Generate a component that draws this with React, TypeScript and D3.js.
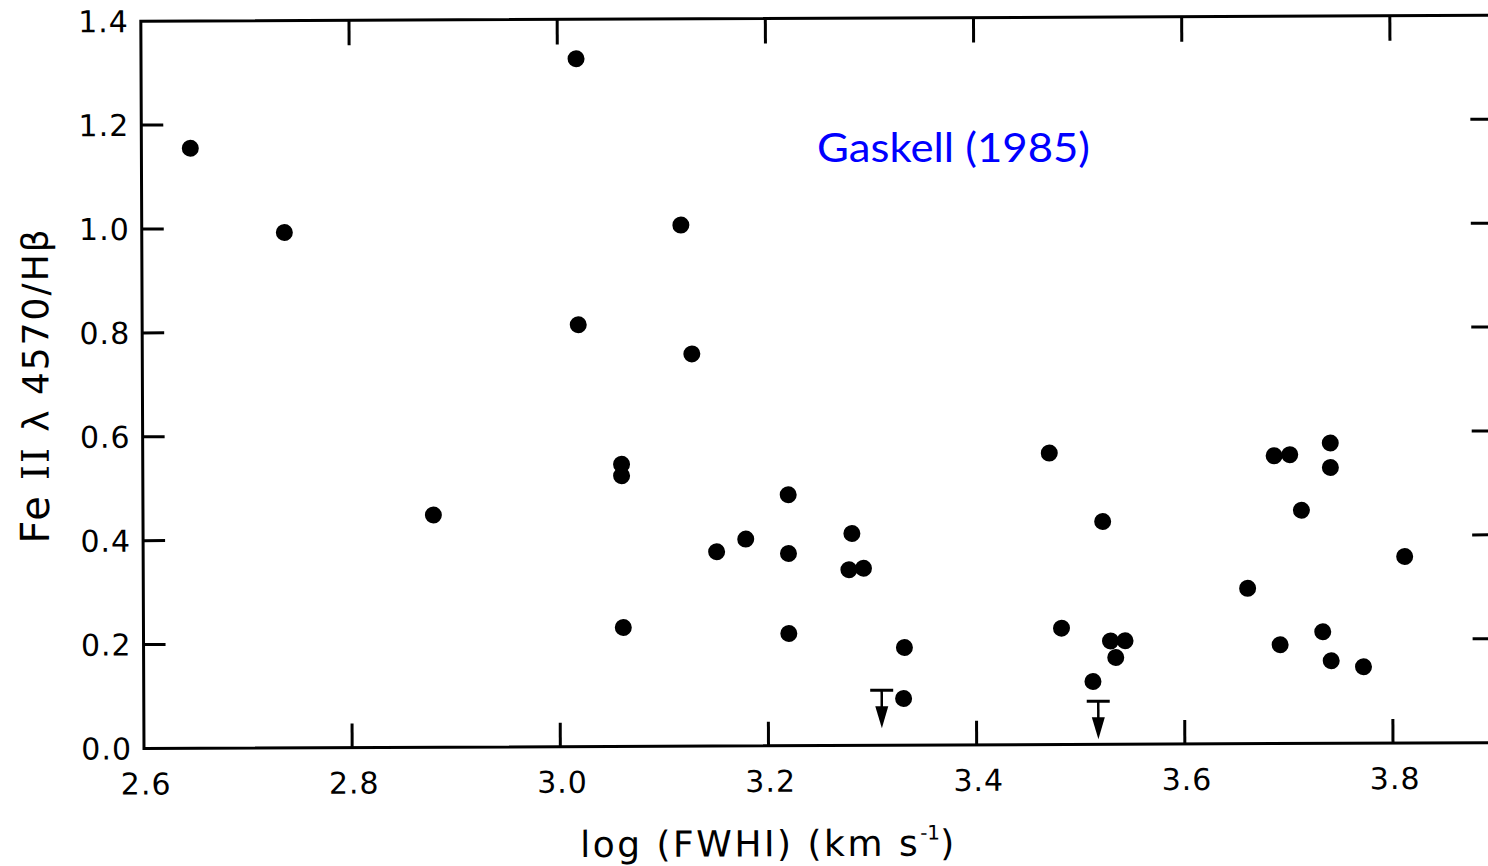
import React from "react";
import * as d3 from "d3";

// ---- data ----
const logFWHM = [
  2.647, 2.737, 2.879, 3.018, 3.019, 3.060, 3.060, 3.061, 3.118, 3.128,
  3.151, 3.179, 3.220, 3.220, 3.220, 3.281, 3.278, 3.292, 3.331, 3.330,
  3.471, 3.522, 3.482, 3.529, 3.543, 3.534, 3.512, 3.661, 3.687, 3.702,
  3.741, 3.741, 3.713, 3.692, 3.733, 3.741, 3.772, 3.812,
];
const feRatio = [
  1.155, 0.992, 0.447, 1.324, 0.812, 0.543, 0.521, 0.229, 1.003, 0.755,
  0.374, 0.398, 0.483, 0.370, 0.216, 0.408, 0.338, 0.341, 0.188, 0.090,
  0.561, 0.429, 0.224, 0.199, 0.199, 0.167, 0.121, 0.299, 0.554, 0.556,
  0.578, 0.531, 0.449, 0.190, 0.215, 0.159, 0.147, 0.359,
];
const limitX = [3.309, 3.517];
const limitY = [0.106, 0.083];

const xTickValues = [2.6, 2.8, 3.0, 3.2, 3.4, 3.6, 3.8];
const yTickValues = [0.0, 0.2, 0.4, 0.6, 0.8, 1.0, 1.2, 1.4];
const xDomain = [2.6, 3.9];
const yDomain = [0, 1.4];

const annotation = "Gaskell (1985)";

export default function App() {
  const x = d3.scaleLinear().domain([2.6, 3.8]).range([144, 1393]);
  const y = d3.scaleLinear().domain(yDomain).range([748.5, 21.2]);
  const x0 = x(xDomain[0]);
  const x1 = x(xDomain[1]);
  const y0 = y(yDomain[0]);
  const y1 = y(yDomain[1]);
  const tickLen = 24;
  const sw = 3;
  const fmt = d3.format(".1f");
  const innerX = xTickValues.filter((v) => v > xDomain[0]);
  const innerY = yTickValues.filter((v) => v > yDomain[0] && v < yDomain[1]);
  const points = logFWHM.map((v, i) => ({ x: v, y: feRatio[i] }));
  const limits = limitX.map((v, i) => ({ x: v, y: limitY[i] }));

  return (
    <svg
      width={1488}
      height={866}
      style={{ position: "absolute", left: 0, top: 0, background: "#fff" }}
    >
      <rect x={0} y={0} width={1488} height={866} fill="#fff" />
      <g transform={`rotate(-0.25, ${x0}, ${y0})`}>
        {/* frame */}
        <rect
          x={x0}
          y={y1}
          width={x1 - x0}
          height={y0 - y1}
          fill="none"
          stroke="#000"
          strokeWidth={sw}
        />
        {/* bottom & top ticks */}
        {innerX.map((v) => (
          <g key={"xt" + v}>
            <line x1={x(v)} x2={x(v)} y1={y0} y2={y0 - tickLen} stroke="#000" strokeWidth={sw} />
            <line x1={x(v)} x2={x(v)} y1={y1} y2={y1 + tickLen + 1} stroke="#000" strokeWidth={sw} />
          </g>
        ))}
        {/* left & right ticks */}
        {innerY.map((v) => (
          <g key={"yt" + v}>
            <line x1={x0} x2={x0 + tickLen - 2} y1={y(v)} y2={y(v)} stroke="#000" strokeWidth={sw} />
            <line x1={x1} x2={x1 - tickLen} y1={y(v)} y2={y(v)} stroke="#000" strokeWidth={sw} />
          </g>
        ))}
        {/* x tick labels */}
        {xTickValues.map((v) => (
          <text
            key={"xl" + v}
            x={x(v) + 2}
            y={y0 + 46}
            textAnchor="middle"
            fontFamily="DejaVu Sans"
            fontSize={30}
            letterSpacing={1}
            fill="#000"
          >
            {fmt(v)}
          </text>
        ))}
        {/* y tick labels */}
        {yTickValues.map((v) => (
          <text
            key={"yl" + v}
            x={x0 - 12}
            y={y(v)}
            dy="0.36em"
            textAnchor="end"
            fontFamily="DejaVu Sans"
            fontSize={30}
            letterSpacing={1}
            fill="#000"
          >
            {fmt(v)}
          </text>
        ))}
        {/* x axis title */}
        <text
          x={768}
          y={859}
          textAnchor="middle"
          fontFamily="DejaVu Sans"
          fontSize={36}
          letterSpacing={2.5}
          fill="#000"
        >
          <tspan>log (FWHI)  (km s</tspan>
          <tspan fontSize={20} dy={-16} letterSpacing={0}>-1</tspan>
          <tspan dy={16}>)</tspan>
        </text>
        {/* y axis title */}
        <text
          transform={`translate(50, 385) rotate(-90)`}
          textAnchor="middle"
          fontFamily="DejaVu Sans"
          fontSize={36}
          letterSpacing={2}
          fill="#000"
        >
          <tspan fontSize={40}>Fe</tspan>
          <tspan fontFamily="DejaVu Serif" fontSize={38}> II </tspan>
          <tspan>λ 4570/Hβ</tspan>
        </text>
        {/* points */}
        {points.map((p, i) => (
          <circle key={"p" + i} cx={x(p.x)} cy={y(p.y)} r={8.5} fill="#000" />
        ))}
        {/* upper limits */}
        {limits.map((p, i) => {
          const cx = x(p.x);
          const cy = y(p.y);
          return (
            <g key={"l" + i}>
              <line x1={cx - 11.5} x2={cx + 11.5} y1={cy} y2={cy} stroke="#000" strokeWidth={3} />
              <line x1={cx} x2={cx} y1={cy} y2={cy + 18} stroke="#000" strokeWidth={2.5} />
              <path
                d={`M${cx - 6.5},${cy + 16} L${cx + 6.5},${cy + 16} L${cx},${cy + 38} Z`}
                fill="#000"
              />
            </g>
          );
        })}
      </g>
      <text
        x={817}
        y={162}
        fontFamily="Lato"
        fontSize={40}
        textLength={273}
        lengthAdjust="spacingAndGlyphs"
        fill="#0000ff"
      >
        {annotation}
      </text>
    </svg>
  );
}
